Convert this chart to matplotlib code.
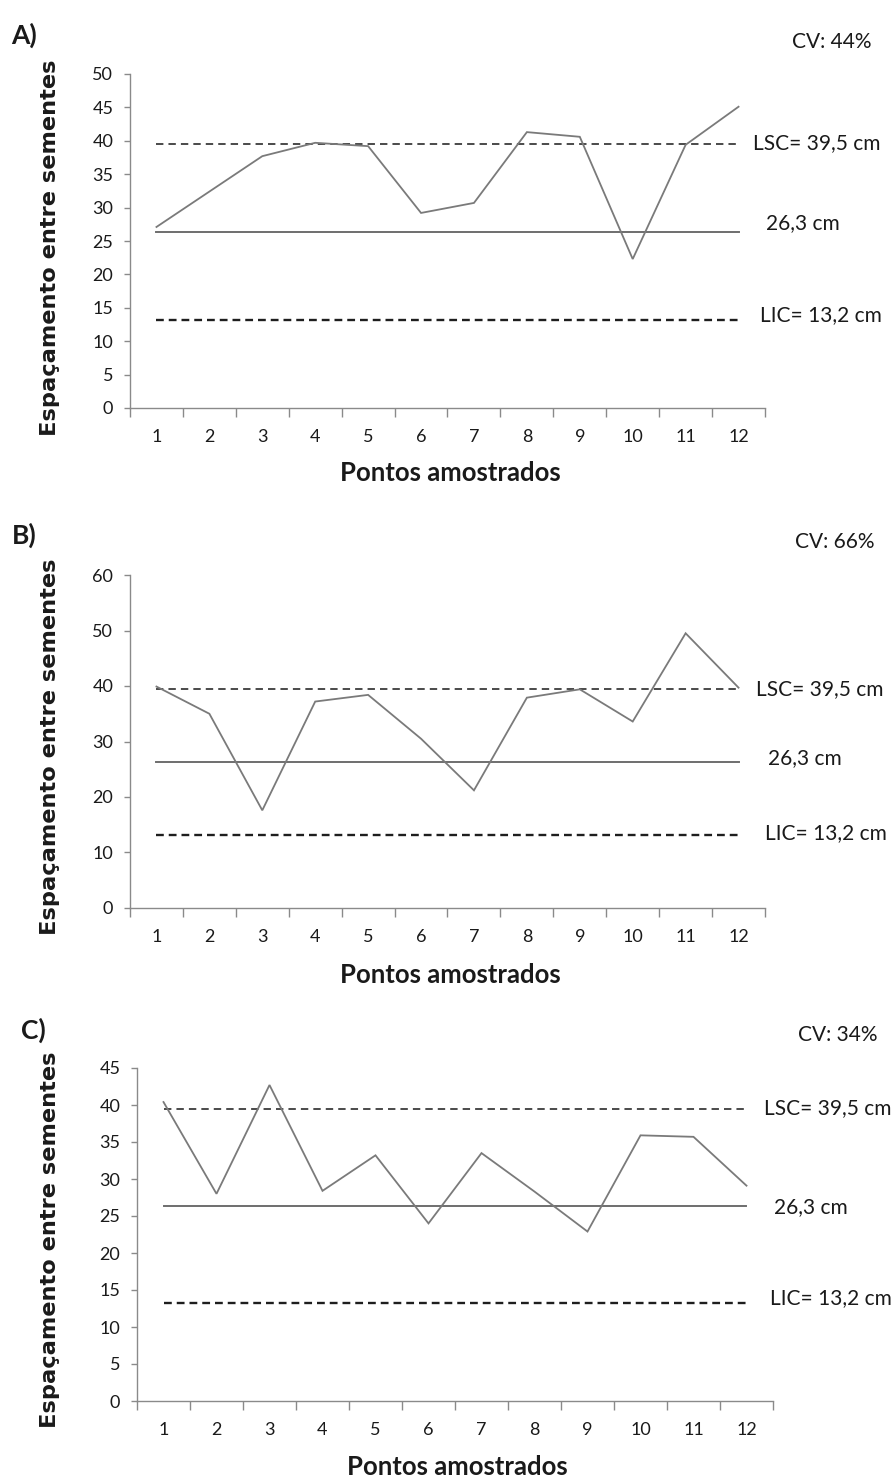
import matplotlib
matplotlib.use("Agg")
import matplotlib.pyplot as plt
import numpy as np

W, H = 895, 1480

# ---------------- data ----------------
points = list(range(1, 13))
tick_labels = [str(p) for p in points]

values_A = [27.1, 32.4, 37.7, 39.7, 39.2, 29.2, 30.7, 41.3, 40.6, 22.3, 39.4, 45.1]
values_B = [39.9, 35.0, 17.6, 37.2, 38.4, 30.5, 21.2, 37.9, 39.4, 33.6, 49.5, 39.7]
values_C = [40.4, 28.0, 42.7, 28.4, 33.2, 24.0, 33.5, 28.3, 22.9, 35.9, 35.7, 29.1]

lsc = 39.5
media = 26.3
lic = 13.2

panel_letters = ["A)", "B)", "C)"]
cv_labels = ["CV: 44%", "CV: 66%", "CV: 34%"]
lsc_label = "LSC= 39,5 cm"
media_label = "26,3 cm"
lic_label = "LIC= 13,2 cm"
ylim_max = [50, 60, 45]
ystep = [5, 10, 5]
ylabel = "Espaçamento entre sementes"
xlabel = "Pontos amostrados"

# ---------------- layout (pixels) ----------------
panels = [
    dict(vals=values_A, left=130, right=765, top=74, bottom=408,
         letter=(11, 35), cv=(832, 42), lsc_t=(753, 143), med_t=(766, 223), lic_t=(760, 315),
         ylab=(50, 248), xlab=(450, 473)),
    dict(vals=values_B, left=130, right=765, top=575, bottom=908,
         letter=(12, 535), cv=(835, 542), lsc_t=(756, 689), med_t=(768, 758), lic_t=(765, 833),
         ylab=(50, 747), xlab=(450, 975)),
    dict(vals=values_C, left=137, right=773, top=1068, bottom=1401,
         letter=(21, 1030), cv=(838, 1035), lsc_t=(764, 1108), med_t=(774, 1207), lic_t=(770, 1298),
         ylab=(50, 1240), xlab=(457, 1467)),
]

fig = plt.figure(figsize=(W / 100, H / 100), dpi=100)
fig.patch.set_facecolor("white")

TXT = "#1a1a1a"
SPINE = "#8a8a8a"
LINE = "#7a7a7a"
calibri_like = ["Lato", "DejaVu Sans"]


def fx(x):
    return x / W


def fy(y):
    return 1 - y / H


for i, p in enumerate(panels):
    ax = fig.add_axes([fx(p["left"]), fy(p["bottom"]),
                       (p["right"] - p["left"]) / W, (p["bottom"] - p["top"]) / H])
    ax.set_xlim(0.5, 12.5)
    ax.set_ylim(0, ylim_max[i])
    for s in ["top", "right"]:
        ax.spines[s].set_visible(False)
    for s in ["left", "bottom"]:
        ax.spines[s].set_color(SPINE)
        ax.spines[s].set_linewidth(1.0)

    ax.plot(points, p["vals"], color=LINE, lw=1.3, solid_joinstyle="miter", zorder=3)
    ax.plot([points[0], points[-1]], [lsc, lsc], color="#4a4a4a", lw=1.4,
            ls=(0, (3.8, 2.6)), zorder=2)
    ax.plot([points[0], points[-1]], [media, media], color="#6e6e6e", lw=1.4, zorder=2)
    ax.plot([points[0], points[-1]], [lic, lic], color="#1e1e1e", lw=1.7,
            ls=(0, (3.3, 2.1)), zorder=2)

    # y ticks
    yt = np.arange(0, ylim_max[i] + 0.1, ystep[i])
    ax.set_yticks(yt)
    ax.set_yticklabels([str(int(v)) for v in yt], fontfamily=calibri_like,
                       fontsize=13, color=TXT)
    ax.tick_params(axis="y", direction="out", length=4, width=1, color=SPINE, pad=8)

    # x ticks: marks at category boundaries, labels at centers
    ax.set_xticks(np.arange(0.5, 12.6, 1.0))
    ax.set_xticklabels([])
    ax.tick_params(axis="x", which="major", direction="out", length=6.5, width=1, color=SPINE)
    ax.set_xticks(points, minor=True)
    ax.set_xticklabels(tick_labels, minor=True, fontfamily=calibri_like,
                       fontsize=13, color=TXT)
    ax.tick_params(axis="x", which="minor", length=0, pad=15)

    # texts
    fig.text(fx(p["letter"][0]), fy(p["letter"][1]), panel_letters[i], fontfamily=calibri_like,
             fontweight="bold", fontsize=19, color=TXT, ha="left", va="center")
    fig.text(fx(p["cv"][0]), fy(p["cv"][1]), cv_labels[i], fontfamily=calibri_like,
             fontsize=15, color=TXT, ha="center", va="center")
    fig.text(fx(p["lsc_t"][0]), fy(p["lsc_t"][1]), lsc_label, fontfamily=calibri_like,
             fontsize=15, color=TXT, ha="left", va="center")
    fig.text(fx(p["med_t"][0]), fy(p["med_t"][1]), media_label, fontfamily=calibri_like,
             fontsize=15, color=TXT, ha="left", va="center")
    fig.text(fx(p["lic_t"][0]), fy(p["lic_t"][1]), lic_label, fontfamily=calibri_like,
             fontsize=15, color=TXT, ha="left", va="center")
    fig.text(fx(p["ylab"][0]), fy(p["ylab"][1]), ylabel, fontfamily="DejaVu Sans",
             fontweight="bold", fontsize=16.2, color=TXT, rotation=90,
             ha="center", va="center")
    fig.text(fx(p["xlab"][0]), fy(p["xlab"][1]), xlabel, fontfamily=calibri_like,
             fontweight="bold", fontsize=18.5, color=TXT, ha="center", va="center")

fig.savefig("out.png", dpi=100, facecolor="white")
